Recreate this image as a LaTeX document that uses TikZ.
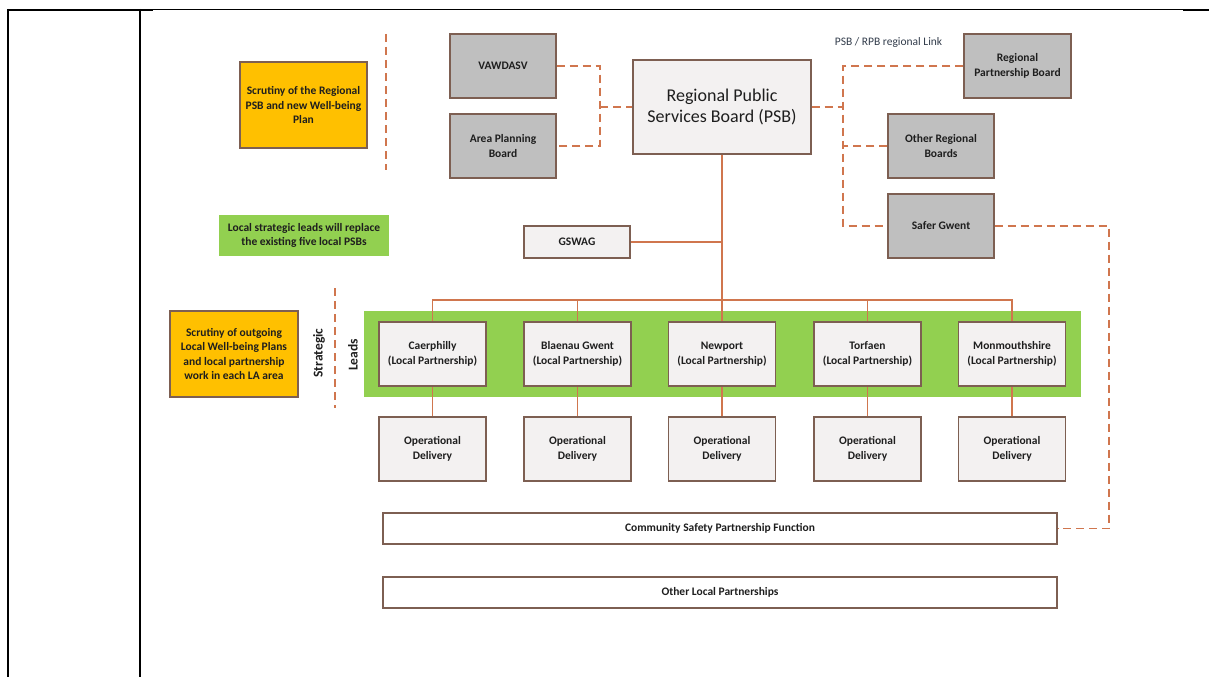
\documentclass[tikz,border=0pt]{standalone}
\usepackage{fontspec}
\setmainfont{Carlito}
\definecolor{brd}{RGB}{125,95,82}
\definecolor{ln}{RGB}{208,118,78}
\definecolor{grayfill}{RGB}{191,191,191}
\definecolor{lightfill}{RGB}{243,241,241}
\definecolor{gr}{RGB}{146,208,80}
\definecolor{org}{RGB}{255,192,0}
\definecolor{txt}{RGB}{30,30,30}
\definecolor{linktxt}{RGB}{50,60,75}
\tikzset{
  base/.style={draw=brd, line width=1.4pt, align=center, inner sep=2pt, text=txt,
    font=\fontsize{11.5}{14.5}\selectfont\bfseries},
  graybox/.style={base, fill=grayfill, minimum width=106pt, minimum height=64pt},
  lightbox/.style={base, fill=lightfill, minimum width=107pt, minimum height=64pt},
  widebox/.style={base, fill=white, minimum width=674pt, minimum height=31pt},
  orgbox/.style={base, fill=org, minimum width=127pt, minimum height=86pt},
  solidln/.style={draw=ln, line width=1.4pt},
  dashln/.style={draw=ln, line width=1.4pt, dash pattern=on 8pt off 5pt},
  tbl/.style={draw=black, line width=2pt},
}
\begin{document}
\begin{tikzpicture}[x=1pt,y=-1pt]
\useasboundingbox (0,0) rectangle (1209,677);
% table lines
\draw[tbl] (7,10) -- (153,10);
\draw[draw=black, line width=1pt] (153,9.5) -- (1209,9.5);
\draw[tbl] (1183,10) -- (1209,10);
\draw[tbl] (8,9) -- (8,677);
\draw[tbl] (140,9) -- (140,677);
% dividers
\draw[dashln] (386,34) -- (386,170);
\draw[dashln] (335,288) -- (335,408);
% green band
\fill[gr] (364,311) rectangle (1081,397);
% regional level
\node[orgbox] (scr1) at (303.5,105) {Scrutiny of the Regional\\PSB and new Well-being\\Plan};
\node[graybox] (vaw) at (503,66) {VAWDASV};
\node[graybox] (apb) at (503,146) {Area Planning\\Board};
\node[base, fill=lightfill, minimum width=178pt, minimum height=94pt,
  font=\fontsize{18}{21}\selectfont] (psb) at (722,107) {Regional Public\\Services Board (PSB)};
\node[graybox, minimum width=107pt] (rpb) at (1017.5,66) {Regional\\Partnership Board};
\node[graybox] (orb) at (941,146) {Other Regional\\Boards};
\node[graybox] (sg) at (941,226) {Safer Gwent};
\node[font=\fontsize{11.5}{14}\selectfont, text=linktxt, inner sep=0pt] (link) at (888.5,42) {PSB / RPB regional Link};
\node[base, draw=none, fill=gr, minimum width=170pt, minimum height=41pt] (gtxt) at (304,235.5) {Local strategic leads will replace\\the existing five local PSBs};
\node[base, fill=lightfill, minimum width=106pt, minimum height=32pt] (gswag) at (577,242) {GSWAG};
\node[orgbox, minimum width=128pt] (scr2) at (234,354) {Scrutiny of outgoing\\Local Well-being Plans\\and local partnership\\work in each LA area};
\node[rotate=90, text=txt, font=\fontsize{13.5}{16}\selectfont\bfseries, inner sep=0pt] (strat) at (319,353) {Strategic};
\node[rotate=90, text=txt, font=\fontsize{13.5}{16}\selectfont\bfseries, inner sep=0pt] (leads) at (353,355) {Leads};
% local partnerships
\node[lightbox] (l1) at (432.5,354) {Caerphilly\\(Local Partnership)};
\node[lightbox] (l2) at (577.5,354) {Blaenau Gwent\\(Local Partnership)};
\node[lightbox] (l3) at (722,354) {Newport\\(Local Partnership)};
\node[lightbox] (l4) at (867.5,354) {Torfaen\\(Local Partnership)};
\node[lightbox] (l5) at (1012,354) {Monmouthshire\\(Local Partnership)};
\node[lightbox] (o1) at (432.5,449) {Operational\\Delivery};
\node[lightbox] (o2) at (577.5,449) {Operational\\Delivery};
\node[lightbox] (o3) at (722,449) {Operational\\Delivery};
\node[lightbox] (o4) at (867.5,449) {Operational\\Delivery};
\node[lightbox] (o5) at (1012,449) {Operational\\Delivery};
\node[widebox] (cspf) at (720,528.5) {Community Safety Partnership Function};
\node[widebox] (olp) at (720,592.5) {Other Local Partnerships};
% coordinates
\coordinate (bus) at (722,300);
\coordinate (jl) at (600,107);
\coordinate (jr) at (843,107);
\coordinate (jsg) at (1109,226);
% solid connectors
\draw[solidln] (psb.south) -- (bus);
\draw[solidln] (l1.north) |- (bus);
\draw[solidln] (l5.north) |- (bus);
\foreach \i in {2,3,4}{\draw[solidln] (l\i.north) -- (l\i.north |- bus);}
\foreach \i in {1,...,5}{\draw[solidln] (l\i.south) -- (o\i.north);}
\draw[solidln] (gswag.east) -- (gswag.east -| bus);
% dashed connectors
\draw[dashln] (vaw.east) -| (jl) |- (apb.east);
\draw[dashln] (jl) -- (psb.west);
\draw[dashln] (psb.east) -- (jr);
\draw[dashln] (rpb.west) -| (jr) |- (sg.west);
\draw[dashln] (orb.west) -- (orb.west -| jr);
\draw[dashln] (sg.east) -- (jsg) |- (cspf.east);
\end{tikzpicture}
\end{document}
